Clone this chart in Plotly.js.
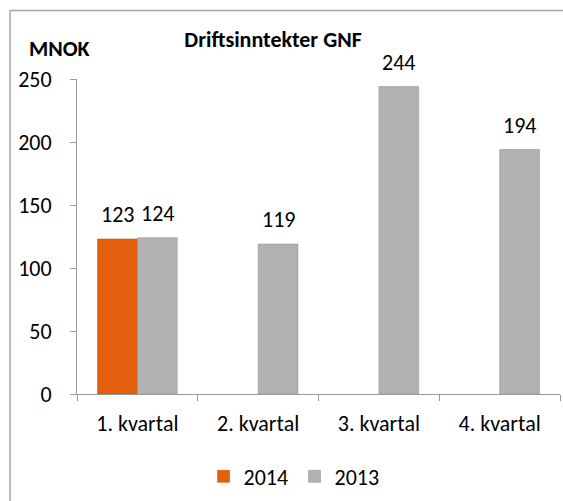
<!DOCTYPE html>
<html><head><meta charset="utf-8">
<script src="https://cdn.plot.ly/plotly-3.0.1.min.js"></script>
<style>html,body{margin:0;padding:0;background:#fff}#chart{width:563px;height:501px}</style>
</head><body><div id="chart"></div>
<script>
const categories = ["1. kvartal", "2. kvartal", "3. kvartal", "4. kvartal"];
const values2014 = [123, null, null, null];
const values2013 = [124, 119, 244, 194];
const yTicks = [0, 50, 100, 150, 200, 250];

const font = "Carlito, Lato, 'Open Sans', sans-serif";

const traces = [
  {type: "bar", name: "2014", x: categories, y: values2014,
   marker: {color: "#E4600E", line: {color: "#B84A08", width: 0.5}}, hoverinfo: "none"},
  {type: "bar", name: "2013", x: categories, y: values2013,
   marker: {color: "#B2B2B2", line: {color: "#8C8C8C", width: 0.5}}, hoverinfo: "none"}
];

// data labels drawn as annotations, offset to the centre of each grouped bar
const labelAnn = [];
const series = [{vals: values2014, shift: -20}, {vals: values2013, shift: 20}];
series.forEach(s => s.vals.forEach((v, i) => {
  if (v == null) return;
  labelAnn.push({x: categories[i], y: v, xref: "x", yref: "y", text: String(v),
    showarrow: false, xanchor: "center", yanchor: "bottom", xshift: s.shift, yshift: 9,
    font: {size: 22, family: font, color: "#000"}});
}));

const layout = {
  width: 563, height: 501,
  margin: {l: 77, r: 3, t: 79, b: 105},
  paper_bgcolor: "#fff", plot_bgcolor: "#fff",
  font: {family: font, size: 20, color: "#000"},
  barmode: "group", bargap: 0.34, bargroupgap: 0,
  showlegend: true,
  legend: {orientation: "h", x: 0.262, xanchor: "left", y: -0.262, yanchor: "middle",
           font: {size: 22, family: font}, itemwidth: 30, traceorder: "normal",
           entrywidth: 46, entrywidthmode: "pixels"},
  title: {text: "<b>Driftsinntekter GNF</b>", font: {size: 22, family: font}, x: 0.485, xanchor: "center", y: 0.922, yanchor: "middle"},
  xaxis: {type: "category", showline: true, linecolor: "#9A9A9A", linewidth: 1,
          ticks: "outside", tickson: "boundaries", ticklen: 6, tickcolor: "#9A9A9A",
          ticklabelstandoff: 10, showgrid: false, zeroline: false,
          tickfont: {size: 22, family: font}},
  yaxis: {range: [0, 250], tickvals: yTicks, ticktext: yTicks.map(String),
          showline: true, linecolor: "#9A9A9A", linewidth: 1, ticks: "outside", ticklen: 6,
          tickcolor: "#9A9A9A", ticklabelstandoff: 14, showgrid: false, zeroline: false,
          tickfont: {size: 22, family: font}},
  annotations: [
    {text: "<b>MNOK</b>", xref: "paper", yref: "paper", x: -0.037, y: 1.098, xanchor: "center", yanchor: "middle",
     showarrow: false, font: {size: 22, family: font}}
  ].concat(labelAnn),
  shapes: [
    {type: "line", xref: "paper", yref: "paper", x0: -0.1387, x1: 1.01, y0: 1.2177, y1: 1.2177, line: {color: "#A6A6A6", width: 1.5}},
    {type: "line", xref: "paper", yref: "paper", x0: -0.1387, x1: -0.1387, y0: 1.2177, y1: -0.35, line: {color: "#A6A6A6", width: 1.5}}
  ]
};

Plotly.newPlot("chart", traces, layout, {displayModeBar: false, staticPlot: true});
</script></body></html>
